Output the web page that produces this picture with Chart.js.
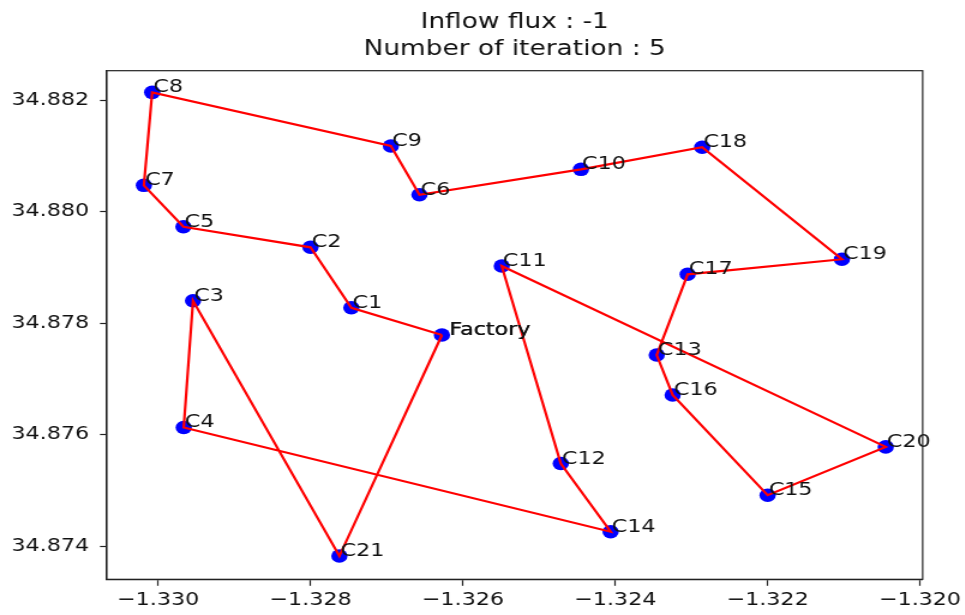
<!DOCTYPE html>
<html>
<head>
<meta charset="utf-8">
<script src="https://cdn.jsdelivr.net/npm/chart.js@4.4.1/dist/chart.umd.min.js"></script>
<style>
  html, body { margin: 0; padding: 0; background: #fff; overflow: hidden; }
  /* the reference picture is stretched sideways, so stretch the canvas the same way */
  #wrap { width: 804px; height: 615px; transform: scaleX(1.2); transform-origin: 0 0; }
</style>
</head>
<body>
<div id="wrap"><canvas id="chart" width="804" height="615"></canvas></div>
<script>
// Site names and coordinates (longitude, latitude)
const names = ['Factory', 'C1', 'C2', 'C3', 'C4', 'C5', 'C6', 'C7', 'C8', 'C9', 'C10',
    'C11', 'C12', 'C13', 'C14', 'C15', 'C16', 'C17', 'C18', 'C19', 'C20', 'C21'];
const lon = [-1.326275, -1.327464, -1.328000, -1.329542, -1.329664, -1.329668, -1.326570,
    -1.330187, -1.330078, -1.326945, -1.324450, -1.325490, -1.324715, -1.323456, -1.324061,
    -1.322000, -1.323247, -1.323050, -1.322859, -1.321025, -1.320450, -1.327621];
const lat = [34.877785, 34.878274, 34.879358, 34.878400, 34.876126, 34.879727, 34.880301,
    34.880470, 34.882138, 34.881175, 34.880757, 34.879022, 34.875480, 34.877426, 34.874257,
    34.874911, 34.876710, 34.878874, 34.881152, 34.879143, 34.875778, 34.873820];

// Tour found after 5 iterations
const route = ['Factory', 'C1', 'C2', 'C5', 'C7', 'C8', 'C9', 'C6', 'C10', 'C18', 'C19',
    'C17', 'C13', 'C16', 'C15', 'C20', 'C11', 'C12', 'C14', 'C4', 'C3', 'C21', 'Factory'];

const xTicks = [-1.330, -1.328, -1.326, -1.324, -1.322, -1.320];
const yTicks = [34.874, 34.876, 34.878, 34.880, 34.882];
const titleLines = ['Inflow flux : -1', 'Number of iteration : 5'];

const FONT = 'DejaVu Sans';

const sitePoints = names.map((n, i) => ({ x: lon[i], y: lat[i] }));
const routePoints = route.map(n => {
    const i = names.indexOf(n);
    return { x: lon[i], y: lat[i] };
});

// Text next to each site (the depot label sits a bit further right and looks heavier)
const siteLabels = {
    id: 'siteLabels',
    afterDatasetsDraw(chart) {
        const ctx = chart.ctx;
        const xs = chart.scales.x, ys = chart.scales.y;
        ctx.save();
        ctx.font = '18.5px "' + FONT + '"';
        ctx.fillStyle = '#111';
        ctx.textAlign = 'left';
        ctx.textBaseline = 'alphabetic';
        names.forEach((n, i) => {
            const px = xs.getPixelForValue(lon[i]);
            const py = ys.getPixelForValue(lat[i]);
            if (n === 'Factory') {
                ctx.fillText(n, px + 6, py);
                ctx.fillText(n, px + 6.4, py);
            } else {
                ctx.fillText(n, px + 1, py);
            }
        });
        ctx.restore();
    }
};

// Box around the plot area
const frame = {
    id: 'frame',
    afterDraw(chart) {
        const a = chart.chartArea;
        const ctx = chart.ctx;
        ctx.save();
        ctx.strokeStyle = '#222';
        ctx.lineWidth = 1.2;
        ctx.strokeRect(a.left, a.top, a.right - a.left, a.bottom - a.top);
        ctx.restore();
    }
};

const fmt = v => v.toFixed(3).replace('-', '\u2212');

new Chart(document.getElementById('chart'), {
    type: 'scatter',
    data: {
        datasets: [
            {
                type: 'line',
                data: routePoints,
                showLine: true,
                borderColor: '#ff0000',
                borderWidth: 2.2,
                pointRadius: 0,
                fill: false,
                tension: 0,
                order: 0
            },
            {
                data: sitePoints,
                backgroundColor: '#0000ff',
                borderWidth: 0,
                pointRadius: 6.8,
                pointHoverRadius: 6.8,
                order: 1
            }
        ]
    },
    options: {
        responsive: false,
        animation: false,
        layout: { padding: { left: 0, right: 32.3, top: 0, bottom: 0 } },
        plugins: {
            legend: { display: false },
            tooltip: { enabled: false },
            title: {
                display: true,
                fullSize: false,
                text: titleLines,
                color: '#111',
                font: { family: FONT, size: 22, weight: 'normal', lineHeight: 1.25 },
                padding: { top: 8.5, bottom: 7.2 }
            }
        },
        scales: {
            x: {
                type: 'linear',
                min: -1.330675,
                max: -1.319965,
                afterBuildTicks: axis => { axis.ticks = xTicks.map(v => ({ value: v })); },
                afterFit: axis => { axis.height = 35.7; },
                ticks: {
                    callback: v => fmt(v),
                    color: '#111',
                    font: { family: FONT, size: 18.5 },
                    padding: 3,
                    maxRotation: 0
                },
                grid: { drawOnChartArea: false, drawTicks: true, tickLength: 6.5, tickColor: '#222', tickWidth: 1.2 },
                border: { display: true, color: '#222', width: 1.2 }
            },
            y: {
                type: 'linear',
                min: 34.873403,
                max: 34.882526,
                afterBuildTicks: axis => { axis.ticks = yTicks.map(v => ({ value: v })); },
                afterFit: axis => { axis.width = 88.9; },
                ticks: {
                    callback: v => v.toFixed(3),
                    color: '#111',
                    font: { family: FONT, size: 18.5 },
                    padding: 9
                },
                grid: { drawOnChartArea: false, drawTicks: true, tickLength: 5.6, tickColor: '#222', tickWidth: 1.2 },
                border: { display: true, color: '#222', width: 1.2 }
            }
        }
    },
    plugins: [siteLabels, frame]
});
</script>
</body>
</html>
